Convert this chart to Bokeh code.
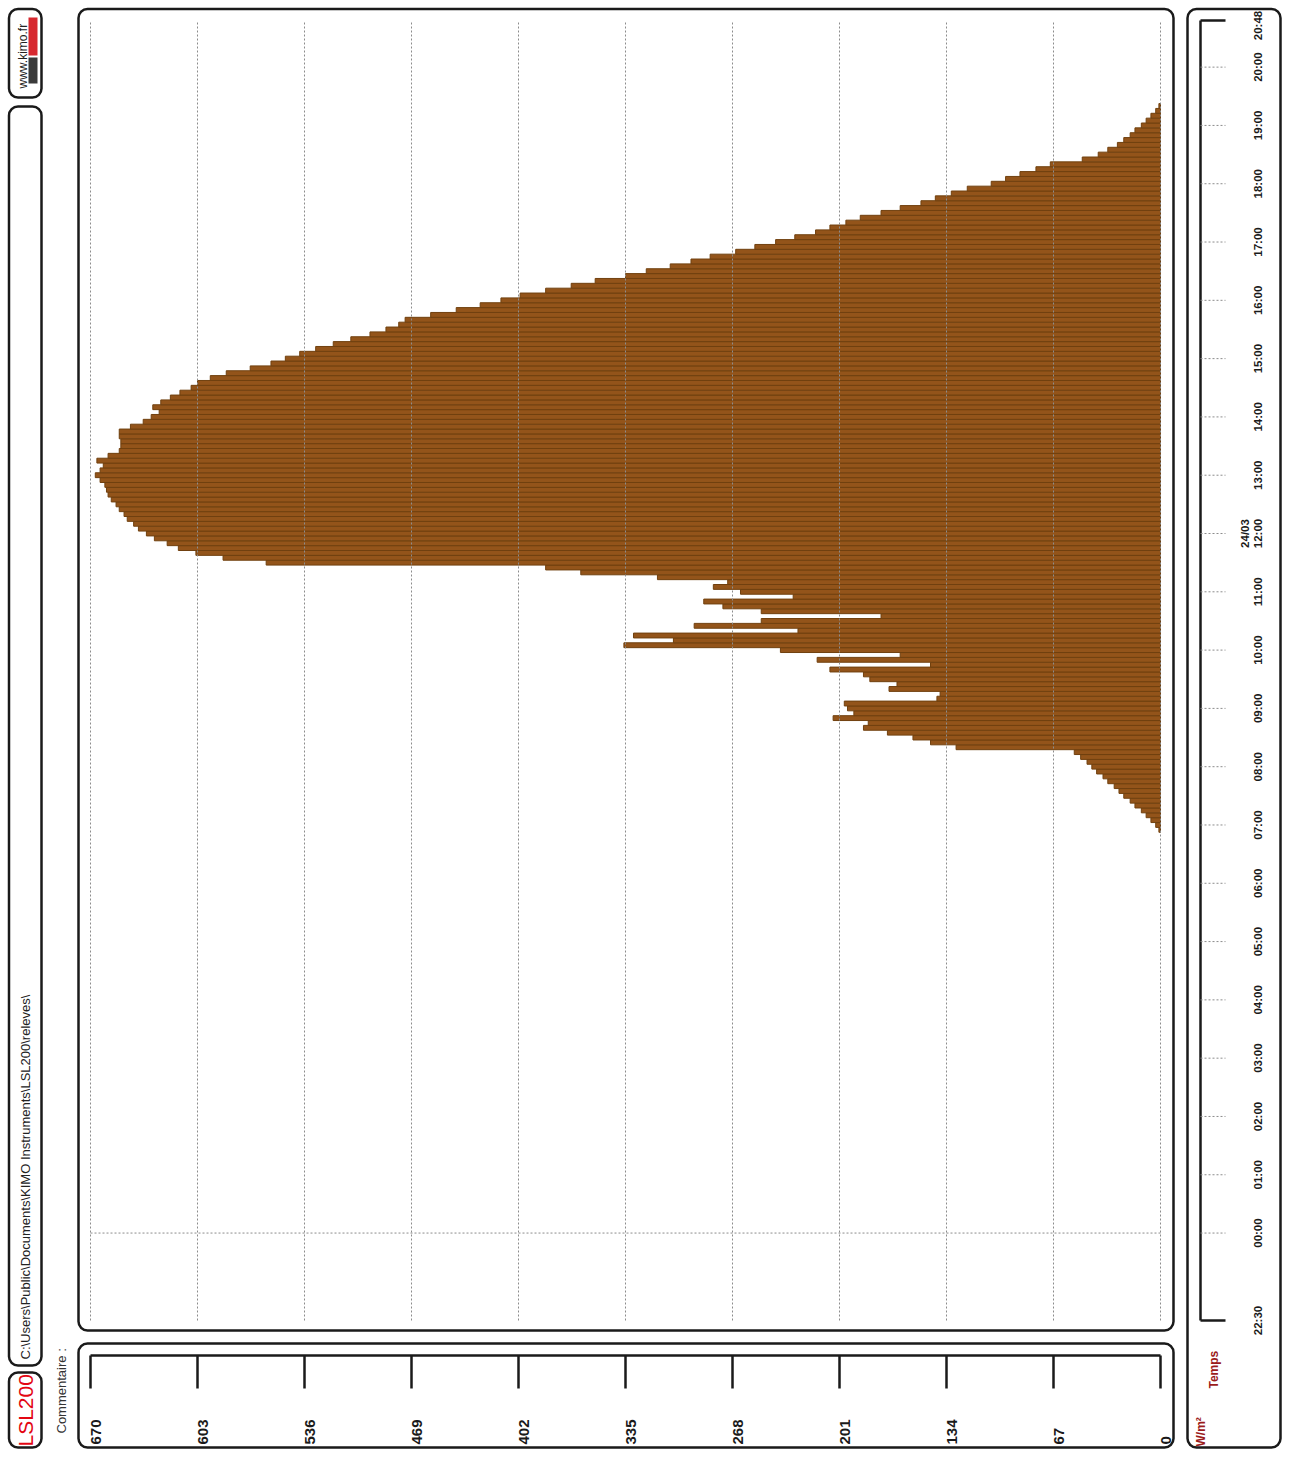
import math
from bokeh.plotting import figure
from bokeh.models import Range1d, BoxAnnotation, ColumnDataSource
from bokeh.core.properties import value
from bokeh.embed import file_html
from bokeh.resources import INLINE

# ---------------- data ----------------
VALUE_TICKS = [670, 603, 536, 469, 402, 335, 268, 201, 134, 67, 0]
VALUE_LABELS = ["670", "603", "536", "469", "402", "335", "268", "201", "134", "67", "0"]
HOUR_TICKS = [0, 1, 2, 3, 4, 5, 6, 7, 8, 9, 10, 11, 12, 13, 14, 15, 16, 17, 18, 19, 20]
HOUR_LABELS = ["00:00", "01:00", "02:00", "03:00", "04:00", "05:00", "06:00", "07:00",
               "08:00", "09:00", "10:00", "11:00", "12:00", "13:00", "14:00", "15:00",
               "16:00", "17:00", "18:00", "19:00", "20:00"]
START_LABEL = "22:30"   # 23/03
END_LABEL = "20:48"     # 24/03
DATE_LABEL = "24/03"
DATE_HOUR = 12
Y_UNIT = "W/m\u00b2"
X_NAME = "Temps"
PATH_TEXT = "C:\\Users\\Public\\Documents\\KIMO Instruments\\LSL200\\releves\\"
COMMENT_TEXT = "Commentaire :"
DEVICE_TEXT = "LSL200"
SITE_TEXT = "www.kimo.fr"

FIRST_SAMPLE = "06:55"
STEP_MIN = 5
IRRADIANCE = [
    1, 3, 6, 9, 12, 16, 19, 23, 26, 29, 33, 36, 40,            # 06:55-07:55
    43, 46, 50, 54, 128, 144, 155, 171, 186, 183, 205, 192,    # 08:00-08:55
    196, 198, 140, 138, 170, 165, 182, 186, 207, 144, 215, 163,  # 09:00-09:55
    238, 336, 305, 330, 227, 292, 250, 175, 250, 274, 286, 230,  # 10:00-10:55
    263, 280, 271, 315, 363, 385, 560, 587, 604, 615, 622, 630,  # 11:00-11:55
    635, 640, 643, 647, 649, 652, 654, 657, 659, 660, 661, 664,  # 12:00-12:55
    667, 664, 662, 666, 659, 652, 651, 651, 652, 652, 645, 637,  # 13:00-13:55
    632, 627, 631, 626, 620, 614, 607, 603, 595, 585, 570, 557,  # 14:00-14:55
    548, 539, 529, 518, 507, 495, 485, 477, 473, 457, 441, 426,  # 15:00-15:55
    413, 401, 385, 369, 354, 335, 322, 307, 294, 282, 266, 254,  # 16:00-16:55
    241, 229, 216, 207, 197, 188, 175, 163, 150, 141, 131, 121,  # 17:00-17:55
    106, 97, 88, 78, 69, 49, 39, 33, 27, 23, 19, 16,             # 18:00-18:55
    12, 9, 6, 3, 1,                                              # 19:00-19:20
]


def to_hours(label, previous_day=False):
    h, m = label.split(":")
    return int(h) + int(m) / 60.0 - (24 if previous_day else 0)


T_START = to_hours(START_LABEL, previous_day=True)
T_END = to_hours(END_LABEL)
t_first = to_hours(FIRST_SAMPLE)
times = [t_first + i * STEP_MIN / 60.0 for i in range(len(IRRADIANCE))]

# ---------------- layout (page pixels) ----------------
W, H = 1282, 1449
PX0, PY0 = 0, 0
PLOT_L, PLOT_R, PLOT_T, PLOT_B = 90, 1160, 20, 1320
VMAX = max(VALUE_TICKS)
sx = (PLOT_R - PLOT_L) / VMAX
sy = (PLOT_B - PLOT_T) / (T_END - T_START)

x_range = Range1d(VMAX + (PLOT_L - PX0) / sx, 0 - (PX0 + W - PLOT_R) / sx)
y_range = Range1d(T_START - (PY0 + H - PLOT_B) / sy, T_END + (PLOT_T - PY0) / sy)

p = figure(width=W, height=H, x_range=x_range, y_range=y_range,
           output_backend="svg", toolbar_location=None,
           x_axis_location=None, y_axis_location=None,
           min_border=0, outline_line_color=None,
           background_fill_color="white", border_fill_color="white")
p.extra_x_ranges = {"px": Range1d(PX0, PX0 + W)}
p.extra_y_ranges = {"py": Range1d(PY0 + H, PY0)}
p.grid.visible = False

SANS = "Liberation Sans, Arial"
INK = "#1a1a1a"
RED_DARK = "#9b1c1c"

# ---------------- bars ----------------
src = ColumnDataSource(dict(t=times, v=IRRADIANCE))
p.hbar(y="t", left=0, right="v", height=STEP_MIN / 60.0, source=src,
       fill_color="#93541a", line_color="#70400f", line_width=1.0)

# ---------------- grid ----------------
n = len(VALUE_TICKS)
p.segment(x0=VALUE_TICKS, x1=VALUE_TICKS, y0=[T_START] * n, y1=[T_END] * n,
          line_color="#8c8c8c", line_dash="2 2", line_width=1)
p.segment(x0=[VMAX], x1=[0], y0=[0], y1=[0],
          line_color="#8c8c8c", line_dash="2 2", line_width=1)

# ---------------- value axis (bottom panel) ----------------
AX_Y, TICK_END, LAB_Y = 1355, 1388, 1444
p.segment(x0=[VMAX], x1=[0], y0=[AX_Y], y1=[AX_Y], y_range_name="py",
          line_color=INK, line_width=2.5)
p.segment(x0=VALUE_TICKS, x1=VALUE_TICKS, y0=[AX_Y] * n, y1=[TICK_END] * n,
          y_range_name="py", line_color=INK, line_width=2.5)
p.text(x=VALUE_TICKS, y=[LAB_Y] * n, text=VALUE_LABELS, y_range_name="py",
       angle=math.pi / 2, text_align="left", text_baseline="top",
       text_font=value(SANS), text_font_style="bold", text_font_size="15px",
       text_color=INK)

# ---------------- time axis (right panel) ----------------
SP_X, TK_X, TL_X, DL_X = 1200, 1225, 1257, 1244
END_LABEL_SHIFT_PX = 5
p.segment(x0=[SP_X], x1=[SP_X], y0=[T_START], y1=[T_END], x_range_name="px",
          line_color=INK, line_width=2.5)
p.segment(x0=[SP_X, SP_X], x1=[TK_X, TK_X], y0=[T_START, T_END], y1=[T_START, T_END],
          x_range_name="px", line_color=INK, line_width=2.5)
m = len(HOUR_TICKS)
p.segment(x0=[SP_X] * m, x1=[TK_X] * m, y0=HOUR_TICKS, y1=HOUR_TICKS,
          x_range_name="px", line_color="#8c8c8c", line_dash="2 2", line_width=1)
p.text(x=[TL_X] * (m + 2), y=HOUR_TICKS + [T_START, T_END - END_LABEL_SHIFT_PX / sy],
       text=HOUR_LABELS + [START_LABEL, END_LABEL], x_range_name="px",
       angle=math.pi / 2, text_align="center", text_baseline="middle",
       text_font=value(SANS), text_font_style="bold", text_font_size="11.5px",
       text_color=INK)
p.text(x=[DL_X], y=[DATE_HOUR], text=[DATE_LABEL], x_range_name="px",
       angle=math.pi / 2, text_align="center", text_baseline="middle",
       text_font=value(SANS), text_font_style="bold", text_font_size="11.5px",
       text_color=INK)
p.text(x=[1200], y=[1446], text=[Y_UNIT], x_range_name="px", y_range_name="py",
       angle=math.pi / 2, text_align="left", text_baseline="middle",
       text_font=value(SANS), text_font_style="bold", text_font_size="12px",
       text_color=RED_DARK)
p.text(x=[1213], y=[1388], text=[X_NAME], x_range_name="px", y_range_name="py",
       angle=math.pi / 2, text_align="left", text_baseline="middle",
       text_font=value(SANS), text_font_style="bold", text_font_size="12px",
       text_color=RED_DARK)

# ---------------- left strip ----------------
p.text(x=[61], y=[1433], text=[COMMENT_TEXT], x_range_name="px", y_range_name="py",
       angle=math.pi / 2, text_align="left", text_baseline="middle",
       text_font=value(SANS), text_font_size="13px", text_color="#333333")
p.text(x=[25], y=[1359], text=[PATH_TEXT], x_range_name="px", y_range_name="py",
       angle=math.pi / 2, text_align="left", text_baseline="middle",
       text_font=value(SANS), text_font_size="13px", text_color="#222222")
p.text(x=[25], y=[1446], text=[DEVICE_TEXT], x_range_name="px", y_range_name="py",
       angle=math.pi / 2, text_align="left", text_baseline="middle",
       text_font=value(SANS), text_font_size="21px", text_color="#e30613")
p.text(x=[22], y=[88], text=[SITE_TEXT], x_range_name="px", y_range_name="py",
       angle=math.pi / 2, text_align="left", text_baseline="middle",
       text_font=value(SANS), text_font_size="12px", text_color="#222222")
p.quad(left=[28, 28], right=[37, 37], top=[17, 57], bottom=[55, 83],
       x_range_name="px", y_range_name="py",
       fill_color=["#d7282f", "#3a3a3a"], line_color=None)

# ---------------- panel frames ----------------
PANELS = [
    (78, 1173, 8.5, 1330),     # chart
    (78, 1173, 1343, 1447),    # value axis
    (1187, 1280, 8.5, 1447),   # time axis
    (8.5, 41, 8.5, 97),        # site
    (8.5, 41, 106, 1365),      # path
    (8.5, 41, 1372, 1447),     # device
]
for (l, r, t, b) in PANELS:
    p.add_layout(BoxAnnotation(left=l, right=r, top=t, bottom=b,
                               x_range_name="px", y_range_name="py",
                               fill_alpha=0, line_color=INK, line_alpha=1.0,
                               line_width=2.5, border_radius=9))

open("out.html", "w").write(file_html(p, INLINE))
